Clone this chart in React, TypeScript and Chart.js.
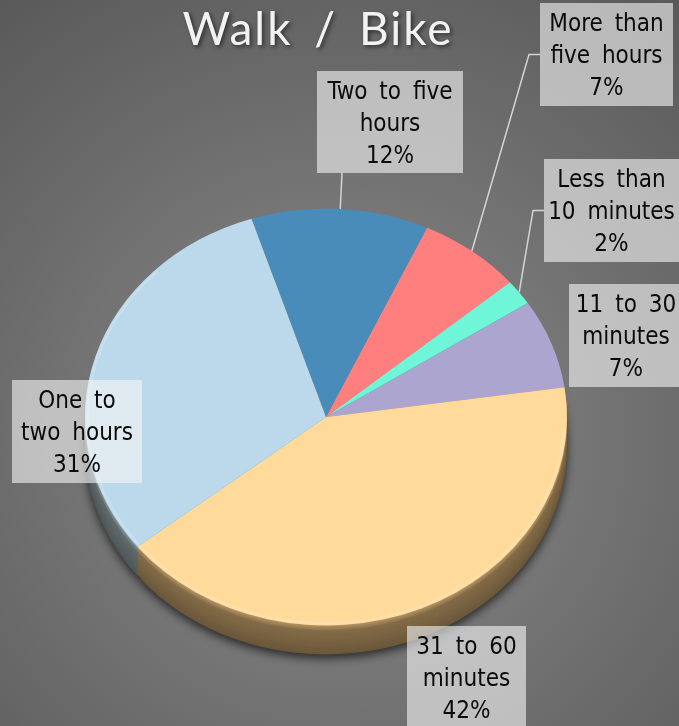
import { useEffect, useRef } from 'react';
import { Chart, registerables } from 'chart.js';

Chart.register(...registerables);

const TITLE = 'Walk / Bike';
const CATEGORIES = [
  'Two to five hours',
  'More than five hours',
  'Less than 10 minutes',
  '11 to 30 minutes',
  '31 to 60 minutes',
  'One to two hours',
];
const LABEL_LINES = [
  ['Two to five', 'hours'],
  ['More than', 'five hours'],
  ['Less than', '10 minutes'],
  ['11 to 30', 'minutes'],
  ['31 to 60', 'minutes'],
  ['One to', 'two hours'],
];
const PERCENTS = [12, 7, 2, 7, 42, 31];
const COLORS = ['#4A8CB9', '#FF7F7F', '#6FF5D7', '#ABA5CF', '#FFDA9B', '#BCD9EB'];

// layout of the label boxes (center x, top y, width, height, leader routing)
const LABEL_BOXES = [
  { cx: 390, top: 71, w: 146, h: 102, leader: 'bottom' },
  { cx: 606.5, top: 3, w: 133, h: 103, leader: 'left' },
  { cx: 611.5, top: 159, w: 135, h: 103, leader: 'left' },
  { cx: 626, top: 284, w: 114, h: 103, leader: 'none' },
  { cx: 466.5, top: 626, w: 119, h: 103, leader: 'none' },
  { cx: 77, top: 380, w: 130, h: 103, leader: 'none' },
];

const W = 679;
const H = 726;
const TILT = 0.865;
const DEPTH = 29;

function hexToRgb(h: string) {
  const n = parseInt(h.slice(1), 16);
  return [(n >> 16) & 255, (n >> 8) & 255, n & 255];
}
function shade(h: string, f: number) {
  const [r, g, b] = hexToRgb(h);
  return `rgb(${Math.round(r * f)},${Math.round(g * f * 0.96)},${Math.round(b * f * 0.9)})`;
}

function arcGeom(chart: any) {
  const meta = chart.getDatasetMeta(0);
  return meta.data.map((el: any) =>
    el.getProps(['x', 'y', 'startAngle', 'endAngle', 'outerRadius'], true)
  );
}

const pie3d = {
  id: 'pie3d',
  beforeDraw(chart: any) {
    const ctx = chart.ctx;
    ctx.save();
    const g = ctx.createRadialGradient(340, 440, 30, 340, 440, 560);
    g.addColorStop(0, '#888888');
    g.addColorStop(1, '#595959');
    ctx.fillStyle = g;
    ctx.fillRect(0, 0, chart.width, chart.height);
    ctx.restore();
  },
  beforeDatasetsDraw(chart: any) {
    const ctx = chart.ctx;
    const arcs = arcGeom(chart);
    if (!arcs.length) return;
    const cx = arcs[0].x;
    const cy = arcs[0].y;
    ctx.save();
    ctx.translate(cx, cy);
    ctx.scale(1, TILT);
    ctx.translate(-cx, -cy);
    // side walls
    for (let d = DEPTH; d >= 1; d--) {
      const t = d / DEPTH;
      const off = d / TILT;
      arcs.forEach((a: any, i: number) => {
        ctx.save();
        if (d === DEPTH) {
          ctx.shadowColor = 'rgba(0,0,0,0.65)';
          ctx.shadowBlur = 10;
          ctx.shadowOffsetY = 4;
        }
        ctx.beginPath();
        ctx.moveTo(a.x, a.y + off);
        ctx.arc(a.x, a.y + off, a.outerRadius, a.startAngle, a.endAngle);
        ctx.closePath();
        const f = t < 0.2 ? 0.72 - t * 0.9 : 0.54 - 0.12 * t;
        ctx.fillStyle = shade(COLORS[i], f);
        ctx.fill();
        ctx.restore();
      });
    }
  },
  afterDatasetsDraw(chart: any) {
    const ctx = chart.ctx;
    const arcs = arcGeom(chart);
    if (arcs.length) {
      const a = arcs[0];
      ctx.save();
      ctx.beginPath();
      ctx.arc(a.x, a.y, a.outerRadius - 2.5, 0.05, Math.PI * 1.25);
      ctx.strokeStyle = 'rgba(255,255,255,0.16)';
      ctx.lineWidth = 3;
      ctx.stroke();
      ctx.restore();
    }
    ctx.restore();
  },
  afterDraw(chart: any) {
    const ctx = chart.ctx;
    const arcs = arcGeom(chart);
    ctx.save();
    // leader lines
    ctx.strokeStyle = '#D4D4D4';
    ctx.lineWidth = 1.5;
    arcs.forEach((a: any, i: number) => {
      const box = LABEL_BOXES[i];
      if (box.leader === 'none') return;
      const mid = (a.startAngle + a.endAngle) / 2;
      const px = a.x + a.outerRadius * Math.cos(mid);
      const py = a.y + TILT * a.outerRadius * Math.sin(mid);
      ctx.beginPath();
      if (box.leader === 'bottom') {
        ctx.moveTo(px, py);
        ctx.lineTo(box.cx - 48, box.top + box.h);
      } else {
        const left = box.cx - box.w / 2;
        const my = box.top + box.h / 2;
        ctx.moveTo(px, py);
        ctx.lineTo(left - 11, my);
        ctx.lineTo(left, my);
      }
      ctx.stroke();
    });
    // boxes and text
    arcs.forEach((_a: any, i: number) => {
      const box = LABEL_BOXES[i];
      ctx.fillStyle = 'rgba(243,243,243,0.61)';
      ctx.fillRect(box.cx - box.w / 2, box.top, box.w, box.h);
      ctx.fillStyle = '#0A0A0A';
      ctx.font = '24px "DejaVu Sans Condensed", "Liberation Sans Narrow", "DejaVu Sans", sans-serif';
      (ctx as any).wordSpacing = '5px';
      ctx.textAlign = 'center';
      ctx.textBaseline = 'middle';
      const lines = [...LABEL_LINES[i], `${PERCENTS[i]}%`];
      lines.forEach((ln, k) => {
        ctx.fillText(ln, box.cx, box.top + 22 + k * 32);
      });
    });
    // title
    ctx.font = '46px Lato, "DejaVu Sans", sans-serif';
    (ctx as any).letterSpacing = '2px';
    (ctx as any).wordSpacing = '8px';
    ctx.textAlign = 'center';
    ctx.textBaseline = 'alphabetic';
    ctx.shadowColor = 'rgba(0,0,0,0.55)';
    ctx.shadowBlur = 4;
    ctx.shadowOffsetX = 2;
    ctx.shadowOffsetY = 2;
    ctx.fillStyle = '#F2F2F2';
    ctx.fillText(TITLE, 318, 45);
    ctx.restore();
  },
};

export default function App() {
  const ref = useRef<HTMLCanvasElement>(null);
  useEffect(() => {
    if (!ref.current) return;
    const chart = new Chart(ref.current, {
      type: 'pie',
      data: {
        labels: CATEGORIES,
        datasets: [
          {
            data: PERCENTS,
            backgroundColor: COLORS,
            borderWidth: 0,
            clip: false as any,
          },
        ],
      },
      options: {
        animation: false,
        responsive: false,
        maintainAspectRatio: false,
        events: [],
        rotation: -18,
        layout: { padding: { left: 85, right: 112, top: 176, bottom: 68 } },
        plugins: {
          legend: { display: false },
          tooltip: { enabled: false },
          title: { display: false },
        },
      },
      plugins: [pie3d],
    });
    return () => chart.destroy();
  }, []);
  return (
    <div style={{ position: 'fixed', left: 0, top: 0, width: W, height: H }}>
      <canvas ref={ref} width={W} height={H} style={{ width: W, height: H, display: 'block' }} />
    </div>
  );
}
